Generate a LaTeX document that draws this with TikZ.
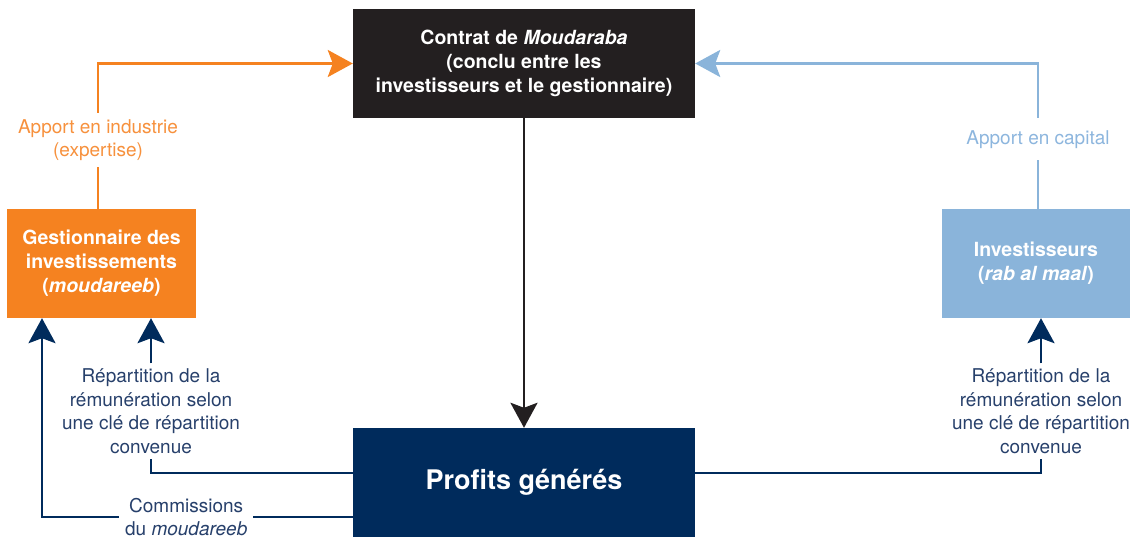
\documentclass[tikz,border=0pt]{standalone}
\usepackage{fontspec}
\setmainfont{TeX Gyre Heros}
\usetikzlibrary{arrows.meta,positioning}
\definecolor{cOrange}{HTML}{F58220}
\definecolor{cOrangeTxt}{HTML}{F7913D}
\definecolor{cSky}{HTML}{8AB4DA}
\definecolor{cSkyTxt}{HTML}{8DB6DE}
\definecolor{cNavy}{HTML}{002B5C}
\definecolor{cNavyTxt}{HTML}{27406B}
\definecolor{cInk}{HTML}{231F20}
\tikzset{
  box/.style={rectangle, inner sep=0pt, align=center, text=white,
    font=\fontsize{19.5}{24}\selectfont\bfseries},
  bigtip/.style={-{Stealth[length=25pt,width=27pt,inset=5pt]}},
  orangeline/.style={draw=cOrange, line width=2.8pt},
  skyline/.style={draw=cSky, line width=2.8pt},
  navyline/.style={draw=cNavy, line width=2.6pt},
  inkline/.style={draw=cInk, line width=2.8pt},
  lbl/.style={align=center, font=\fontsize{19}{23.5}\selectfont, inner sep=5pt},
}
\begin{document}
\begin{tikzpicture}[x=1pt, y=-1pt]
\useasboundingbox (0,0) rectangle (1143,540);

% main boxes
\node[box, fill=cInk, minimum width=342pt, minimum height=109pt] (contract) at (524,63.5)
  {Contrat de \textit{Moudaraba}\\(conclu entre les\\investisseurs et le gestionnaire)};
\node[box, fill=cOrange, minimum width=189pt, minimum height=109pt] (gest) at (101.5,263.5)
  {Gestionnaire des\\investissements\\(\textit{moudareeb})};
\node[box, fill=cSky, minimum width=188pt, minimum height=109pt] (inv) at (1036,263.5)
  {Investisseurs\\(\textit{rab al maal})};
\node[box, fill=cNavy, minimum width=342pt, minimum height=109pt,
      font=\fontsize{27}{32}\selectfont\bfseries] (profits) at (524,482.5)
  {Profits générés};

% contributions to the contract
\draw[orangeline, bigtip]
  ([xshift=-3.5pt]gest.north) |- (contract.west)
  node[pos=0.25, yshift=-4pt, lbl, fill=white, text=cOrangeTxt, inner ysep=6pt] (indus)
  {Apport en industrie\\(expertise)};
\draw[skyline, bigtip]
  ([xshift=2pt]inv.north) |- (contract.east)
  node[pos=0.25, yshift=-3pt, lbl, fill=white, text=cSkyTxt, inner ysep=12pt] (capit)
  {Apport en capital};

% contract produces profits
\draw[inkline, bigtip] (contract) -- (profits);

% distribution on the manager's side
\node[lbl, text=cNavyTxt] (repL) at (151,411)
  {Répartition de la\\rémunération selon\\une clé de répartition\\convenue};
\draw[navyline] ([yshift=9.5pt]profits.west) -| (repL.south);
\draw[navyline, bigtip] (repL.north) -- (repL.north |- gest.south);

\draw[navyline, bigtip] ([yshift=-34.5pt]profits.west) -| ([xshift=-59.5pt]gest.south)
  node[pos=0.268, lbl, fill=white, text=cNavyTxt, inner xsep=6pt] (comm)
  {Commissions\\du \textit{moudareeb}};

% distribution on the investors' side
\node[lbl, text=cNavyTxt] (repR) at (1041,411)
  {Répartition de la\\rémunération selon\\une clé de répartition\\convenue};
\draw[navyline] ([yshift=9.5pt]profits.east) -| (repR.south);
\draw[navyline, bigtip] (repR.north) -- (repR.north |- inv.south);
\end{tikzpicture}
\end{document}
